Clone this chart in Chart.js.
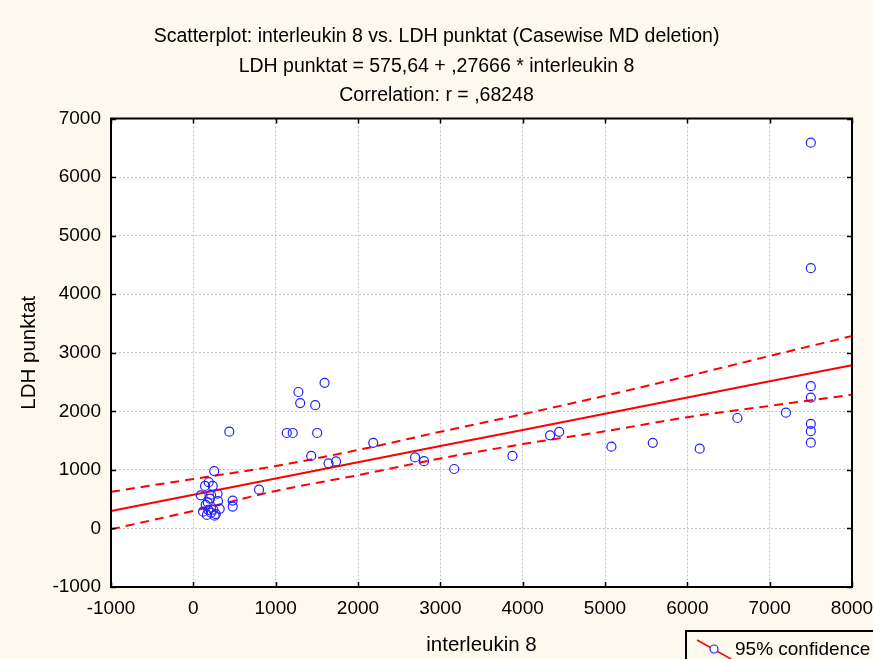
<!DOCTYPE html>
<html>
<head>
<meta charset="utf-8">
<script src="https://cdn.jsdelivr.net/npm/chart.js@4/dist/chart.umd.min.js"></script>
<style>
  html, body { margin: 0; padding: 0; background: #fdf9ef; }
  #chartCanvas { display: block; }
</style>
</head>
<body>
<canvas id="chartCanvas" width="873" height="659"></canvas>
<script>
// interleukin 8 (x) and LDH punktat (y)
const il8 = [
    253, 142, 187, 235, 90, 215, 294, 175, 300, 150, 118, 182, 243, 320, 165, 258, 213, 272, 478, 478, 798, 200,
    437, 1135, 1207, 1504, 1432, 1276, 1298, 1480, 1594, 1642, 1733, 2185, 2693, 2802, 3168, 3876,
    4333, 4444, 5078, 5580, 6150, 6608, 7198, 7500, 7500, 7500, 7500, 7500, 7500, 7500
];
const ldh = [
    980, 726, 790, 726, 565, 575, 592, 445, 465, 402, 287, 316, 320, 335, 231, 218, 270, 245, 475, 373, 662, 510,
    1652, 1630, 1630, 1630, 1239, 2330, 2140, 2105, 2487, 1112, 1145, 1462, 1212, 1148, 1015, 1239,
    1590, 1650, 1396, 1462, 1362, 1886, 1977, 6588, 4445, 2430, 2234, 1786, 1661, 1465
];

// regression line and 95% confidence band
const bandX = [-1000, 0, 1000, 2000, 3000, 4000, 5000, 6000, 7000, 8000];
const fitLine = [299, 576, 852, 1129, 1406, 1682, 1959, 2236, 2512, 2789];
const upperBand = [626, 845, 1065, 1340, 1650, 1950, 2265, 2600, 2945, 3285];
const lowerBand = [-15, 300, 640, 910, 1195, 1440, 1660, 1900, 2092, 2285];

const titleLines = [
    'Scatterplot: interleukin 8 vs. LDH punktat (Casewise MD deletion)',
    'LDH punktat = 575,64 + ,27666 * interleukin 8',
    'Correlation: r = ,68248'
];
const xLabel = 'interleukin 8';
const yLabel = 'LDH punktat';
const legendLabel = '95% confidence';

const FONT = "'Liberation Sans', Arial, sans-serif";
const BG = '#fdf9ef';
const POINT_BLUE = '#2020ff';

document.addEventListener('DOMContentLoaded', () => {
    const ctx = document.getElementById('chartCanvas').getContext('2d');

    const toXY = (xs, ys) => xs.map((x, i) => ({ x: x, y: ys[i] }));

    // frame, inward ticks and the clipped legend box
    const framePlugin = {
        id: 'frame',
        beforeDraw(chart) {
            const c = chart.ctx;
            c.save();
            c.fillStyle = BG;
            c.fillRect(0, 0, chart.width, chart.height);
            const a = chart.chartArea;
            c.fillStyle = '#ffffff';
            c.fillRect(a.left, a.top, a.right - a.left, a.bottom - a.top);
            c.restore();
        },
        afterDraw(chart) {
            const c = chart.ctx;
            const a = chart.chartArea;
            const xs = chart.scales.x;
            const ys = chart.scales.y;
            c.save();
            c.strokeStyle = '#000';
            c.lineWidth = 2;
            c.strokeRect(a.left, a.top, a.right - a.left, a.bottom - a.top);

            c.lineWidth = 1.5;
            c.beginPath();
            xs.ticks.forEach(t => {
                const px = Math.round(xs.getPixelForValue(t.value)) + 0.5;
                c.moveTo(px, a.bottom); c.lineTo(px, a.bottom - 5);
                c.moveTo(px, a.top); c.lineTo(px, a.top + 5);
            });
            ys.ticks.forEach(t => {
                const py = Math.round(ys.getPixelForValue(t.value)) + 0.5;
                c.moveTo(a.left, py); c.lineTo(a.left + 5, py);
                c.moveTo(a.right, py); c.lineTo(a.right - 5, py);
            });
            c.stroke();

            // legend box, runs off the bottom right corner
            const lx = 686, ly = 631;
            c.fillStyle = BG;
            c.fillRect(lx, ly, 200, 40);
            c.lineWidth = 2;
            c.strokeRect(lx, ly, 200, 40);
            c.strokeStyle = '#ff0000';
            c.lineWidth = 1.5;
            c.beginPath();
            c.moveTo(lx + 11, ly + 9);
            c.lineTo(lx + 45, ly + 28);
            c.stroke();
            c.fillStyle = '#ffffff';
            c.strokeStyle = POINT_BLUE;
            c.lineWidth = 1.2;
            c.beginPath();
            c.arc(lx + 28, ly + 18, 4, 0, Math.PI * 2);
            c.fill();
            c.stroke();
            c.fillStyle = '#000';
            c.font = '19px ' + FONT;
            c.textBaseline = 'middle';
            c.fillText(legendLabel, lx + 49, ly + 19);
            c.restore();
        }
    };

    const bandStyle = {
        type: 'line',
        borderColor: '#ff0000',
        borderWidth: 2,
        borderDash: [9, 6],
        pointRadius: 0,
        fill: false,
        cubicInterpolationMode: 'monotone',
        order: 2
    };

    const plainTick = v => String(v);

    new Chart(ctx, {
        type: 'scatter',
        data: {
            datasets: [
                {
                    label: 'points',
                    data: toXY(il8, ldh),
                    pointStyle: 'circle',
                    pointRadius: 4.5,
                    pointBorderWidth: 1.2,
                    borderColor: POINT_BLUE,
                    backgroundColor: 'rgba(255,255,255,0)',
                    order: 0
                },
                {
                    label: 'fit',
                    type: 'line',
                    data: toXY(bandX, fitLine),
                    borderColor: '#ff0000',
                    borderWidth: 2,
                    pointRadius: 0,
                    fill: false,
                    order: 1
                },
                Object.assign({ label: 'upper', data: toXY(bandX, upperBand) }, bandStyle),
                Object.assign({ label: 'lower', data: toXY(bandX, lowerBand) }, bandStyle)
            ]
        },
        options: {
            responsive: false,
            animation: false,
            devicePixelRatio: 1,
            layout: { padding: { left: 0, right: 0, top: 0, bottom: 0 } },
            plugins: {
                legend: { display: false },
                tooltip: { enabled: false },
                title: {
                    display: true,
                    text: titleLines,
                    color: '#000',
                    font: { family: FONT, size: 19.5, weight: 'normal', lineHeight: 29.5 / 19.5 },
                    padding: { top: 22, bottom: 8 }
                }
            },
            scales: {
                x: {
                    type: 'linear',
                    min: -1000,
                    max: 8000,
                    afterFit: scale => {
                        scale.height = 72;
                        scale.paddingRight = 21;
                    },
                    ticks: {
                        stepSize: 1000,
                        color: '#000',
                        padding: 10,
                        font: { family: FONT, size: 19 },
                        callback: plainTick
                    },
                    grid: {
                        color: '#c4c4c4',
                        lineWidth: 1,
                        drawTicks: false
                    },
                    border: { display: false, dash: [2, 2] },
                    title: {
                        display: true,
                        text: xLabel,
                        color: '#000',
                        font: { family: FONT, size: 20.5 },
                        padding: { top: 0, bottom: 1 }
                    }
                },
                y: {
                    type: 'linear',
                    min: -1000,
                    max: 7000,
                    afterFit: scale => { scale.width = 111; },
                    ticks: {
                        stepSize: 1000,
                        color: '#000',
                        padding: 10,
                        font: { family: FONT, size: 19 },
                        callback: plainTick
                    },
                    grid: {
                        color: '#c4c4c4',
                        lineWidth: 1,
                        drawTicks: false
                    },
                    border: { display: false, dash: [2, 2] },
                    title: {
                        display: true,
                        text: yLabel,
                        color: '#000',
                        font: { family: FONT, size: 20.5 },
                        padding: { top: 17, bottom: 0 }
                    }
                }
            }
        },
        plugins: [framePlugin]
    });
});
</script>
</body>
</html>
